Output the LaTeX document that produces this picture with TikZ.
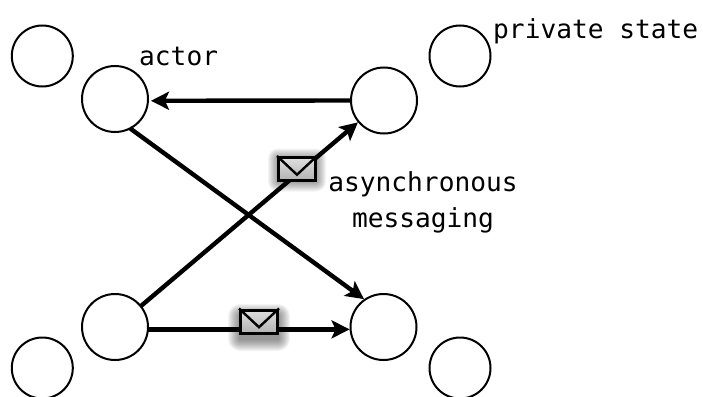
\documentclass[tikz,border=0pt]{standalone}
\usepackage{fontspec}
\setmonofont{DejaVu Sans Mono}
\usetikzlibrary{arrows.meta,calc}
\tikzset{
  actorbig/.style={circle,draw=black,line width=2pt,fill=white,minimum size=66pt,inner sep=0pt},
  actorsmall/.style={circle,draw=black,line width=2pt,fill=white,minimum size=61pt,inner sep=0pt},
  msgline/.style={draw=black,line width=4.4pt,-{Stealth[length=18pt,width=18pt,inset=4pt]},shorten >=0pt,shorten <=-1.5pt},
  envbox/.style={draw=black,line width=3pt,inner sep=0pt,minimum width=37pt,minimum height=23pt,top color=gray!25,bottom color=gray!60},
  flap/.style={draw=black,line width=2.4pt,line join=miter},
  lbl/.style={font=\ttfamily\fontsize{26.2}{36}\selectfont,inner sep=0pt,align=center,text=black},
}
\newcommand{\softshadow}[3]{%
  \foreach \g in {#3,...,1}{
    \fill[black,opacity=0.045,rounded corners=\g pt]
      ($(#1)+(-19-\g,{-11.5-\g+#2})$) rectangle ($(#1)+(19+\g,{11.5+\g+#2})$);
  }%
}
\begin{document}
\begin{tikzpicture}[x=1pt,y=-1pt]
\useasboundingbox (0,0) rectangle (703,396);
\node[actorsmall] (s1) at (42.3,56) {};
\node[actorsmall] (s2) at (460,56) {};
\node[actorsmall] (s3) at (42.3,368) {};
\node[actorsmall] (s4) at (460,368) {};
\node[actorbig] (tl) at (115,99) {};
\node[actorbig] (tr) at (384,100.5) {};
\node[actorbig] (bl) at (115,327) {};
\node[actorbig] (br) at (383.5,327) {};
\path[msgline,shorten >=2pt] (tr.180) -- (tl.-3);
\path[msgline] (tl.-62) -- (br.125);
\path[msgline] (bl.39) -- (tr.220);
\path[msgline] (bl.-4) -- (br.184);
\coordinate (e1) at (297,169);
\coordinate (e2) at (259,321.5);
\softshadow{e1}{1}{10}
\softshadow{e2}{6}{12}
\node[envbox] (m1) at (e1) {};
\draw[flap] (m1.north west) -- ($(m1.south)!0.28!(m1.north)$) -- (m1.north east);
\node[envbox] (m2) at (e2) {};
\draw[flap] (m2.north west) -- ($(m2.south)!0.28!(m2.north)$) -- (m2.north east);
\node[lbl,anchor=base west] (a) at (139,66) {actor};
\node[lbl,anchor=base west] (p) at (493,38) {private state};
\node[lbl] (am) at (423,202) {asynchronous\\messaging};
\end{tikzpicture}
\end{document}
